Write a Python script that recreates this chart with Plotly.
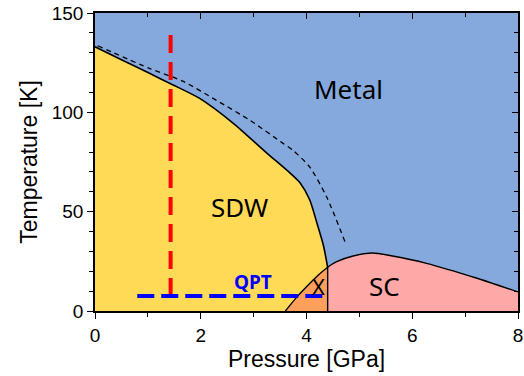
import plotly.graph_objects as go

# ---- data ----
# SDW phase boundary (solid line)
sdw_p = [0.0, 0.5, 1.04, 1.43, 1.98, 2.61, 3.25, 3.69, 3.88, 4.06, 4.2, 4.32, 4.4]
sdw_T = [133, 126.5, 119.5, 114.4, 107, 94.6, 79.5, 69.4, 64.4, 56, 44, 33, 22]

# dashed crossover line
dash_p = [0.05, 1.04, 1.66, 2.3, 2.93, 3.55, 3.74, 4.06, 4.38, 4.74]
dash_T = [133.5, 122, 115.7, 106, 96, 84.5, 81, 72.5, 57.5, 34]

# superconducting dome boundary
sc_p = [3.6, 3.8, 4.0, 4.2, 4.4, 4.57, 4.88, 5.25, 5.6, 6.27, 7.21, 8.0]
sc_T = [0, 6.5, 12.2, 17.5, 22, 24.8, 27.7, 29.2, 27.8, 24, 16.6, 9.6]

# SDW / SC border at the QCP pressure
border_p = 4.4

# cuts
red_p = 1.43
red_T = [7.5, 140]
blue_T = 7.5
blue_p = [0.8, 4.4]

# labels
labels = ["Metal", "SDW", "SC", "X"]
label_p = [4.8, 2.74, 5.48, 4.22]
label_T = [111.7, 52.3, 12.6, 12.8]
qpt_p, qpt_T = 2.99, 14.8

# ---- colours ----
c_metal = "#85A9DC"
c_sdw = "#FFDA57"
c_sc = "#FFA8A8"
c_x = "#FF9F5C"

fig = go.Figure()

# SDW fill
fig.add_trace(go.Scatter(
    x=[0] + sdw_p + [border_p, 0], y=[0] + sdw_T + [0, 0],
    fill="toself", fillcolor=c_sdw, mode="lines", line=dict(width=0),
    hoverinfo="skip", showlegend=False))

# SC fill
fig.add_trace(go.Scatter(
    x=sc_p + [8, sc_p[0]], y=sc_T + [0, 0],
    fill="toself", fillcolor=c_sc, mode="lines", line=dict(width=0),
    hoverinfo="skip", showlegend=False))

# X region fill
xp = [p for p in sc_p if p <= border_p]
xt = [t for p, t in zip(sc_p, sc_T) if p <= border_p]
fig.add_trace(go.Scatter(
    x=xp + [border_p, xp[0]], y=xt + [0, 0],
    fill="toself", fillcolor=c_x, mode="lines", line=dict(width=0),
    hoverinfo="skip", showlegend=False))

# boundaries
fig.add_trace(go.Scatter(x=sdw_p, y=sdw_T, mode="lines",
                         line=dict(color="black", width=1.6, shape="spline", smoothing=0.7),
                         hoverinfo="skip", showlegend=False))
fig.add_trace(go.Scatter(x=sc_p, y=sc_T, mode="lines",
                         line=dict(color="black", width=1.4, shape="spline", smoothing=0.7),
                         hoverinfo="skip", showlegend=False))
fig.add_trace(go.Scatter(x=[border_p, border_p], y=[0, 22], mode="lines",
                         line=dict(color="black", width=1.4),
                         hoverinfo="skip", showlegend=False))
fig.add_trace(go.Scatter(x=dash_p, y=dash_T, mode="lines",
                         line=dict(color="black", width=1.3, dash="5px,4px", shape="spline", smoothing=0.7),
                         hoverinfo="skip", showlegend=False))

# cuts
fig.add_trace(go.Scatter(x=[red_p, red_p], y=red_T, mode="lines",
                         line=dict(color="#FF0000", width=4, dash="18px,9px"),
                         hoverinfo="skip", showlegend=False))
fig.add_trace(go.Scatter(x=blue_p, y=[blue_T, blue_T], mode="lines",
                         line=dict(color="#0000FF", width=4, dash="17px,7px"),
                         hoverinfo="skip", showlegend=False))

# dummy trace to create the mirrored tick axes
fig.add_trace(go.Scatter(x=[0], y=[0], xaxis="x2", yaxis="y2", mode="markers",
                         marker=dict(opacity=0), hoverinfo="skip", showlegend=False))

# labels
sizes = [26, 26, 26, 22]
for t, p, T, s in zip(labels, label_p, label_T, sizes):
    fig.add_annotation(x=p, y=T, text=t, showarrow=False,
                       font=dict(family="Noto Sans", size=s, color="black"))
fig.add_annotation(x=qpt_p, y=qpt_T, text="<b>QPT</b>", showarrow=False,
                   font=dict(family="Noto Sans", size=19, color="#0000FF"))

tickfont = dict(family="Liberation Sans", size=19, color="black")
titlefont = dict(family="Liberation Sans", size=23, color="black")

fig.update_layout(
    width=524, height=376,
    margin=dict(l=95, r=6, t=13, b=65),
    paper_bgcolor="white", plot_bgcolor=c_metal,
    xaxis=dict(range=[0, 8], tickvals=[0, 2, 4, 6, 8], ticks="outside", ticklen=6,
               tickwidth=1.3, tickcolor="black", automargin=False,
               minor=dict(dtick=1, ticks="outside", ticklen=4, tickcolor="black", tickwidth=1.2),
               showline=True, linecolor="black", linewidth=1.5, mirror=True,
               showgrid=False, zeroline=False, tickfont=tickfont,
               title=dict(text="Pressure [GPa]", font=titlefont, standoff=6)),
    yaxis=dict(range=[0, 150], tickvals=[0, 50, 100, 150], ticks="outside", ticklen=6,
               tickwidth=1.3, tickcolor="black", automargin=False,
               minor=dict(dtick=10, ticks="outside", ticklen=4, tickcolor="black", tickwidth=1.2),
               showline=True, linecolor="black", linewidth=1.5, mirror=True,
               showgrid=False, zeroline=False, tickfont=tickfont,
               title=dict(text="Temperature [K]", font=titlefont, standoff=8)),
    xaxis2=dict(range=[0, 8], overlaying="x", side="top", tickvals=[0, 2, 4, 6, 8],
                ticks="inside", ticklen=6, tickwidth=1.3, tickcolor="black", automargin=False,
                minor=dict(dtick=1, ticks="inside", ticklen=4, tickcolor="black", tickwidth=1.2),
                showticklabels=False, showgrid=False, zeroline=False, showline=False),
    yaxis2=dict(range=[0, 150], overlaying="y", side="right", tickvals=[0, 50, 100, 150],
                ticks="inside", ticklen=6, tickwidth=1.3, tickcolor="black", automargin=False,
                minor=dict(dtick=10, ticks="inside", ticklen=4, tickcolor="black", tickwidth=1.2),
                showticklabels=False, showgrid=False, zeroline=False, showline=False),
)

fig.write_html("out.html", config={"displayModeBar": False},
               post_script="document.body.style.margin='0';document.body.style.overflow='hidden';")
